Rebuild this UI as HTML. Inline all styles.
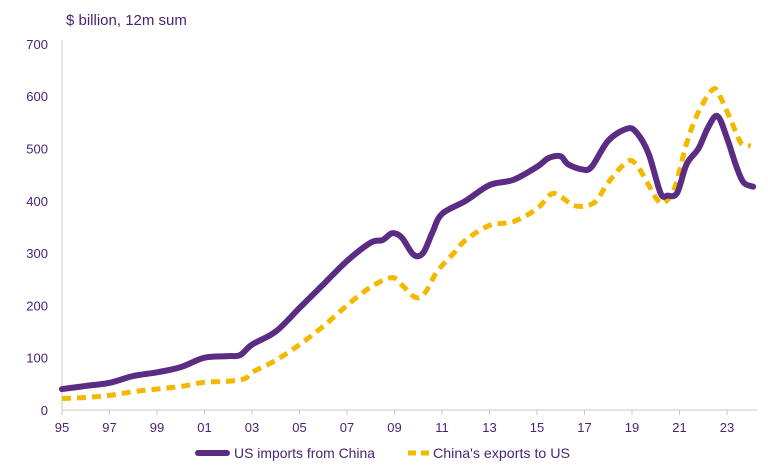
<!DOCTYPE html>
<html><head><meta charset="utf-8"><style>
html,body{margin:0;padding:0;background:#fff;}
svg{display:block;font-family:"Liberation Sans",sans-serif;}
</style></head><body>
<svg id="s" width="768" height="471" viewBox="0 0 768 471">
<text x="66" y="25" font-size="15" fill="#4a2372">$ billion, 12m sum</text>
<g id="ax" fill="#4a2372" font-size="13"></g>
<line x1="62" y1="40" x2="62" y2="410" stroke="#c8c8c8" stroke-width="1"/>
<line x1="62" y1="410" x2="757" y2="410" stroke="#c8c8c8" stroke-width="1"/>
<path id="po" fill="none" stroke="#f5b800" stroke-width="5" stroke-dasharray="9,6" stroke-linejoin="round"/>
<path id="pp" fill="none" stroke="#5b2c83" stroke-width="6" stroke-linejoin="round" stroke-linecap="round"/>
<line x1="198" y1="453" x2="227" y2="453" stroke="#5b2c83" stroke-width="6" stroke-linecap="round"/>
<text x="234" y="458" font-size="14" fill="#4a2372" textLength="141" lengthAdjust="spacingAndGlyphs">US imports from China</text>
<line x1="408" y1="453" x2="430" y2="453" stroke="#f5b800" stroke-width="5" stroke-dasharray="8,5"/>
<text x="433" y="458" font-size="14" fill="#4a2372" textLength="137" lengthAdjust="spacingAndGlyphs">China's exports to US</text>
</svg>
<script>
var X=function(y){return 62+(y-1995)*23.75},Y=function(v){return 410-v*0.523};
var ax=document.getElementById('ax'),h='';
for(var v=0;v<=700;v+=100){h+='<text x="48" y="'+(Y(v)+5)+'" text-anchor="end">'+v+'</text>';}
for(var y=1995;y<=2023;y+=2){var x=X(y);h+='<line x1="'+x+'" y1="410" x2="'+x+'" y2="415" stroke="#c8c8c8"/><text x="'+x+'" y="432" text-anchor="middle">'+String(y).slice(2)+'</text>';}
ax.innerHTML=h;
var P=[[1995,40],[1996,46],[1997,52],[1998,65],[1999,72],[2000,82],[2001,100],[2002,103],[2002.5,105],[2003,125],[2004,150],[2005,195],[2006,240],[2007,285],[2008,320],[2008.5,325],[2008.9,338],[2009.3,330],[2009.8,297],[2010.2,300],[2010.6,340],[2011,375],[2012,400],[2013,430],[2014,440],[2015,465],[2015.5,482],[2016,485],[2016.3,470],[2016.9,460],[2017.3,465],[2018,515],[2018.8,538],[2019.2,530],[2019.7,490],[2020.2,415],[2020.5,410],[2020.9,415],[2021.3,470],[2021.8,500],[2022.2,540],[2022.6,562],[2023,520],[2023.4,465],[2023.7,435],[2024.1,427]];
var O=[[1995,22],[1996,24],[1997,28],[1998,35],[1999,40],[2000,45],[2001,53],[2002,55],[2002.7,60],[2003,72],[2004,95],[2005,125],[2006,160],[2007,200],[2008,235],[2008.9,253],[2009.4,235],[2009.9,215],[2010.3,225],[2010.8,265],[2011.5,300],[2012,325],[2013,353],[2014,360],[2015,385],[2015.6,413],[2016,408],[2016.5,392],[2017,390],[2017.5,400],[2018,435],[2018.8,475],[2019.2,468],[2019.7,430],[2020.1,400],[2020.4,398],[2020.8,425],[2021.3,510],[2021.8,570],[2022.4,613],[2022.7,600],[2023.2,550],[2023.6,510],[2024,505]];
function path(a){var p=a.map(function(d){return[X(d[0]),Y(d[1])]});var s='M'+p[0][0]+','+p[0][1];
for(var i=0;i<p.length-1;i++){var p0=p[i-1]||p[i],p1=p[i],p2=p[i+1],p3=p[i+2]||p2;
s+=' C'+(p1[0]+(p2[0]-p0[0])/6)+','+(p1[1]+(p2[1]-p0[1])/6)+' '+(p2[0]-(p3[0]-p1[0])/6)+','+(p2[1]-(p3[1]-p1[1])/6)+' '+p2[0]+','+p2[1];}
return s;}
document.getElementById('pp').setAttribute('d',path(P));
document.getElementById('po').setAttribute('d',path(O));
</script>
</body></html>
